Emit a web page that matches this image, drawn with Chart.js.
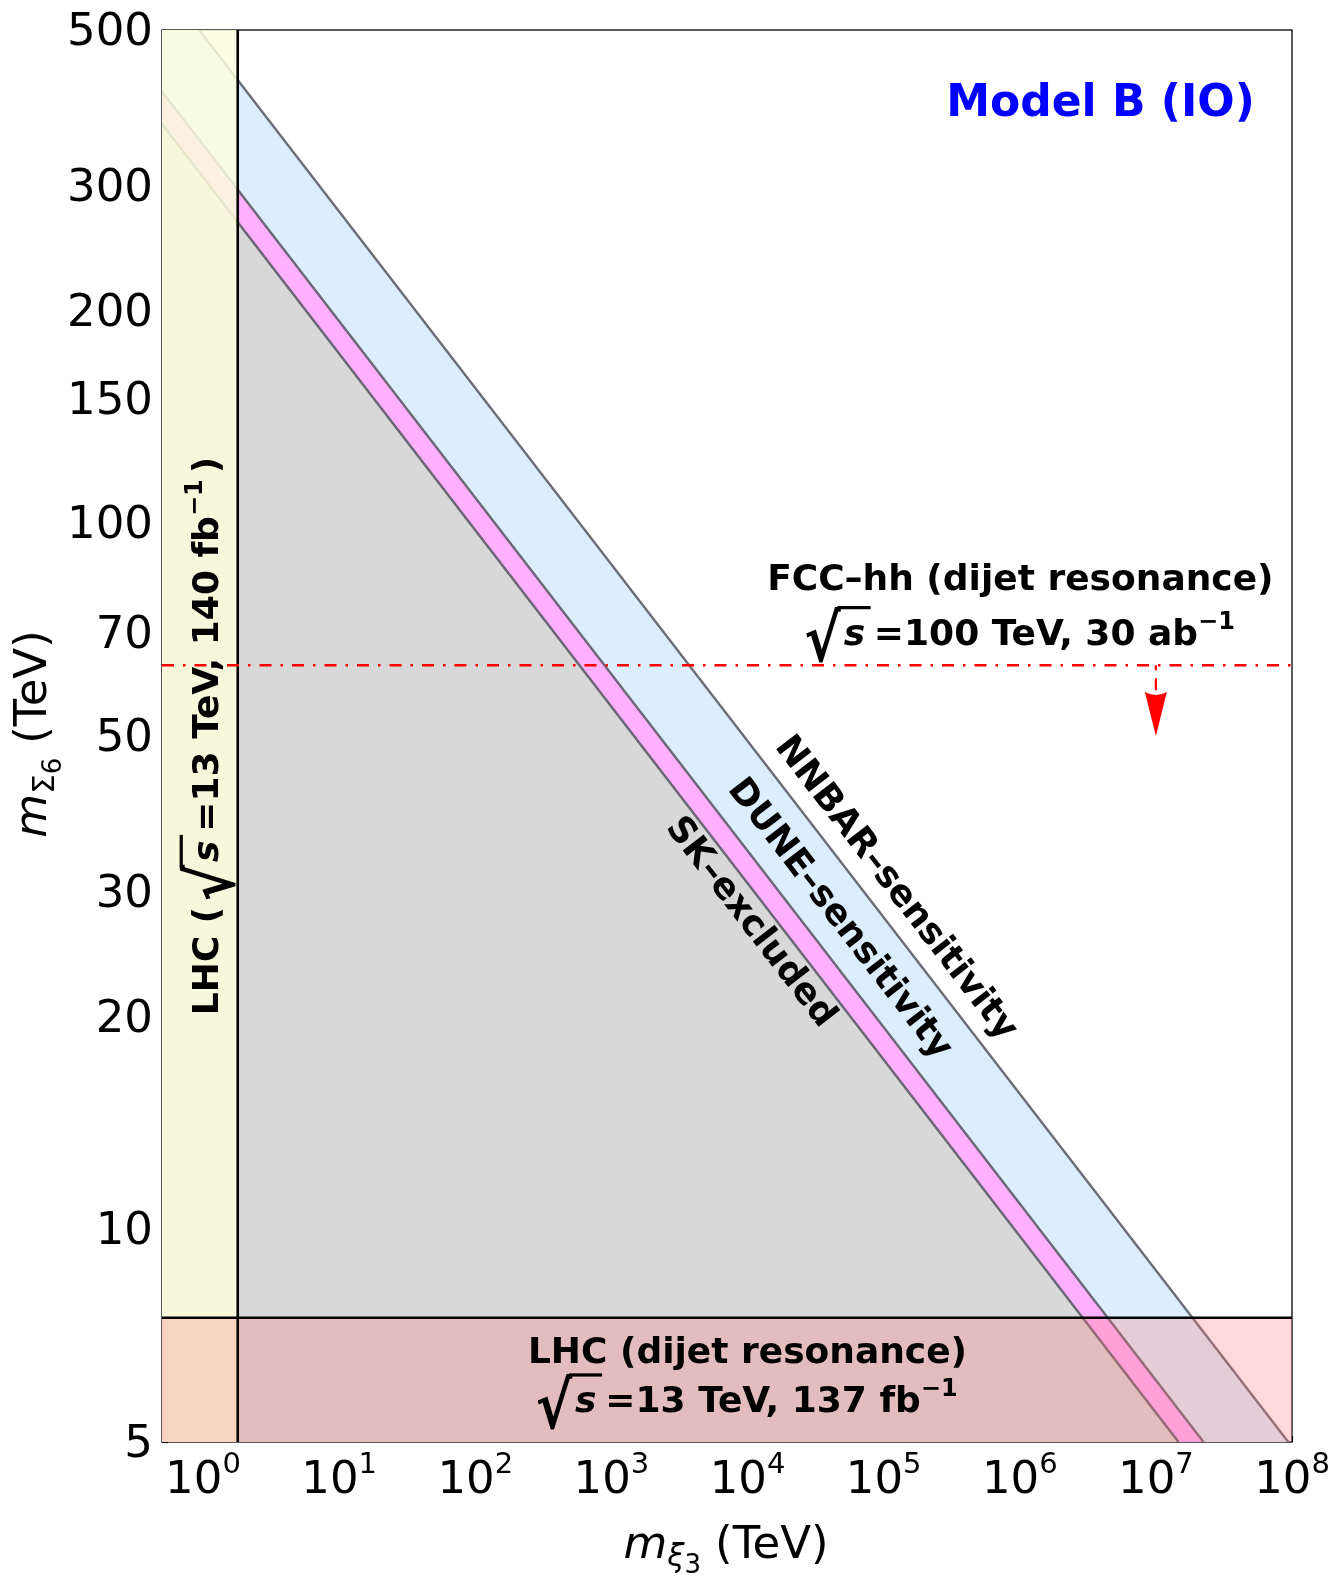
<!DOCTYPE html>
<html><head><meta charset="utf-8">
<script src="https://cdn.jsdelivr.net/npm/chart.js@4.4.1/dist/chart.umd.min.js"></script>
<style>html,body{margin:0;padding:0;background:#fff;}#wrap{width:1331px;height:1577px;}</style>
</head><body><div id="wrap"><canvas id="c" width="1331" height="1577"></canvas></div>
<script>
// ---------------- data (TeV) ----------------
const xTickExponents = [0, 1, 2, 3, 4, 5, 6, 7, 8];
const yTickValues = [5, 10, 20, 30, 50, 70, 100, 150, 200, 300, 500];
const xLimits = [0.5, 1e8];
const yLimits = [5, 500];
// boundary lines: m_xi3 vs m_Sigma6 (two endpoints each, straight in log-log)
const skX = [0.5, 1.467e7];
const skY = [368, 5];
const duneX = [0.5, 2.24e7];
const duneY = [409, 5];
const nnbarX = [0.5, 9.4e7];
const nnbarY = [585, 5];
// LHC bound on m_xi3 (vertical band) and LHC dijet bound on m_Sigma6
const lhcXiBandX = [0.5, 1.8];
const lhcXiLimit = 1.8;
const lhcDijetLimit = 7.5;
// FCC-hh dijet reach and its arrow
const fccLimit = 63;
const fccArrowX = 1e7;
const fccArrowY = [63, 50];

// ---------------- helpers ----------------
const FF = '"DejaVu Sans", "Liberation Sans", sans-serif';
Chart.defaults.font.family = FF;
function fnt(sz, bold, italic) { return (italic ? 'italic ' : '') + (bold ? 'bold ' : '') + sz + 'px ' + FF; }
const pts = (xs, ys) => xs.map((x, i) => ({ x: x, y: ys[i] }));

function partWidth(ctx, p) {
  if (p.sqrt) return 1.89 * p.s;
  if (p.gap) return p.gap;
  ctx.font = fnt(p.s, p.b, p.i);
  return ctx.measureText(p.t).width;
}
function drawSqrt(ctx, x, b, fs) {
  const w = 0.97 * fs, top = b - 1.08 * fs, bot = b + 0.47 * fs;
  ctx.save();
  ctx.font = fnt(100, true, false);
  ctx.textAlign = 'left'; ctx.textBaseline = 'alphabetic';
  const m = ctx.measureText('√');
  const gw = m.actualBoundingBoxLeft + m.actualBoundingBoxRight;
  const gh = m.actualBoundingBoxAscent + m.actualBoundingBoxDescent;
  ctx.translate(x, top);
  ctx.scale(w / gw, (bot - top) / gh);
  ctx.fillText('√', m.actualBoundingBoxLeft, m.actualBoundingBoxAscent);
  ctx.restore();
  const lw = 0.09 * fs;
  ctx.fillRect(x + w - lw, top, 1.8 * fs - w + lw, lw);
  ctx.font = fnt(fs, true, true);
  ctx.textAlign = 'left'; ctx.textBaseline = 'alphabetic';
  ctx.fillText('s', x + 1.05 * fs, b);
}
function drawRich(ctx, parts, x, y, align) {
  let total = 0;
  parts.forEach(p => { p._w = partWidth(ctx, p); total += p._w; });
  let cx = align === 'center' ? x - total / 2 : (align === 'right' ? x - total : x);
  ctx.textAlign = 'left'; ctx.textBaseline = 'alphabetic';
  parts.forEach(p => {
    if (p.sqrt) drawSqrt(ctx, cx, y, p.s);
    else if (!p.gap) { ctx.font = fnt(p.s, p.b, p.i); ctx.fillText(p.t, cx, y + (p.dy || 0)); }
    cx += p._w;
  });
}

// ---------------- plugin: frame, ticks, annotations ----------------
const annotPlugin = {
  id: 'annot',
  beforeDatasetsDraw(chart) {
    const ctx = chart.ctx, ca = chart.chartArea;
    const xs = chart.scales.x, ys = chart.scales.y;
    ctx.save();
    ctx.strokeStyle = '#000'; ctx.lineWidth = 1.3;
    ctx.strokeRect(ca.left, ca.top, ca.right - ca.left, ca.bottom - ca.top);
    ctx.lineWidth = 1.1;
    yTickValues.forEach(v => {
      const y = Math.round(ys.getPixelForValue(v)) + 0.5;
      ctx.beginPath(); ctx.moveTo(ca.left, y); ctx.lineTo(ca.left + 6, y); ctx.stroke();
    });
    xTickExponents.forEach(e => {
      const x = Math.round(xs.getPixelForValue(Math.pow(10, e))) + 0.5;
      ctx.beginPath(); ctx.moveTo(x, ca.bottom); ctx.lineTo(x, ca.bottom - 6); ctx.stroke();
    });
    ctx.restore();
  },
  afterDatasetsDraw(chart) {
    const ctx = chart.ctx;
    const xs = chart.scales.x, ys = chart.scales.y;
    const P = (x, y) => [xs.getPixelForValue(x), ys.getPixelForValue(y)];
    ctx.save();
    // arrow head of FCC reach
    const [ax, atip] = P(fccArrowX, fccArrowY[1]);
    ctx.fillStyle = '#ff0000';
    ctx.beginPath();
    ctx.moveTo(ax, atip);
    ctx.lineTo(ax - 11, atip - 44);
    ctx.quadraticCurveTo(ax, atip - 38, ax + 11, atip - 44);
    ctx.closePath(); ctx.fill();

    ctx.fillStyle = '#000';
    // FCC text
    let p = P(1.01e6, 80.5);
    drawRich(ctx, [{ t: 'FCC–hh (dijet resonance)', s: 36, b: true }], p[0], p[1], 'center');
    p = P(1.01e6, 67.3);
    drawRich(ctx, [{ sqrt: true, s: 36 }, { t: '=100 TeV, 30 ab', s: 36, b: true }, { t: '−1', s: 24, b: true, dy: -16 }], p[0], p[1], 'center');
    // LHC dijet text
    p = P(1e4, 6.47);
    drawRich(ctx, [{ t: 'LHC (dijet resonance)', s: 36, b: true }], p[0], p[1], 'center');
    p = P(1e4, 5.51);
    drawRich(ctx, [{ sqrt: true, s: 36 }, { t: '=13 TeV, 137 fb', s: 36, b: true }, { t: '−1', s: 24, b: true, dy: -16 }], p[0], p[1], 'center');
    // vertical LHC text
    p = P(1.30, 50);
    ctx.save(); ctx.translate(p[0], p[1]); ctx.rotate(-Math.PI / 2);
    drawRich(ctx, [{ t: 'LHC (', s: 36, b: true }, { gap: 7 }, { sqrt: true, s: 36 }, { t: '=13 TeV, 140 fb', s: 36, b: true }, { t: '−1', s: 24, b: true, dy: -16 }, { gap: 6 }, { t: ')', s: 36, b: true }], 0, 0, 'center');
    ctx.restore();
    // Model label
    ctx.fillStyle = '#0000ff';
    p = P(3.92e6, 378);
    drawRich(ctx, [{ t: 'Model B (IO)', s: 44, b: true }], p[0], p[1], 'center');
    ctx.fillStyle = '#000';
    // diagonal labels
    const a = P(skX[0], skY[0]), b2 = P(skX[1], skY[1]);
    const ang = Math.atan2(b2[1] - a[1], b2[0] - a[0]);
    const diag = [['NNBAR–sensitivity', 1.22e5, 30.4], ['DUNE–sensitivity', 4.72e4, 27.5], ['SK–excluded', 1.047e4, 27.2]];
    diag.forEach(d => {
      const q = P(d[1], d[2]);
      ctx.save(); ctx.translate(q[0], q[1]); ctx.rotate(ang);
      ctx.font = fnt(36, true, false); ctx.textAlign = 'center'; ctx.textBaseline = 'middle';
      ctx.fillText(d[0], 0, 0);
      ctx.restore();
    });
    ctx.restore();
  },
  afterDraw(chart) {
    const ctx = chart.ctx, xs = chart.scales.x;
    ctx.save(); ctx.fillStyle = '#000';
    // x tick labels 10^n
    xTickExponents.forEach(e => {
      const x = xs.getPixelForValue(Math.pow(10, e));
      drawRich(ctx, [{ t: '10', s: 45 }, { t: String(e), s: 29, dy: -20 }], x, 1493, 'center');
    });
    // x title
    drawRich(ctx, [{ t: 'm', s: 45, i: true }, { t: 'ξ', s: 31, i: true, dy: 8 }, { t: '3', s: 26, dy: 15 }, { gap: 14 }, { t: '(TeV)', s: 45 }], 726, 1558, 'center');
    // y title
    ctx.save(); ctx.translate(46, 734); ctx.rotate(-Math.PI / 2);
    drawRich(ctx, [{ t: 'm', s: 45, i: true }, { t: 'Σ', s: 31, dy: 8 }, { t: '6', s: 26, dy: 15 }, { gap: 14 }, { t: '(TeV)', s: 45 }], 0, 0, 'center');
    ctx.restore();
    ctx.restore();
  }
};

// ---------------- chart ----------------
const lineGray = 'rgba(85,85,95,0.85)';
const clear = 'rgba(0,0,0,0)';
const TARGET = { left: 162, top: 30, right: 1292, bottom: 1442 };
const chart = new Chart(document.getElementById('c'), {
  type: 'line',
  data: {
    datasets: [
      { label: 'NNBAR-sensitivity', data: pts(nnbarX, nnbarY), order: 9, fill: 'start', backgroundColor: 'rgb(220,238,253)', borderColor: lineGray, borderWidth: 2.4 },
      { label: 'DUNE-sensitivity', data: pts(duneX, duneY), order: 8, fill: 'start', backgroundColor: 'rgb(255,176,255)', borderColor: lineGray, borderWidth: 2.4 },
      { label: 'SK-excluded', data: pts(skX, skY), order: 7, fill: 'start', backgroundColor: 'rgb(216,216,216)', borderColor: lineGray, borderWidth: 2.4 },
      { label: 'LHC band', data: pts(lhcXiBandX, [yLimits[1], yLimits[1]]), order: 6, fill: 'start', backgroundColor: 'rgba(251,253,220,0.85)', borderColor: clear, borderWidth: 0 },
      { label: 'LHC dijet band', data: pts(xLimits, [lhcDijetLimit, lhcDijetLimit]), order: 5, fill: 'start', backgroundColor: 'rgba(255,117,117,0.28)', borderColor: clear, borderWidth: 0 },
      { label: 'LHC dijet limit', data: pts(xLimits, [lhcDijetLimit, lhcDijetLimit]), order: 4, fill: false, borderColor: '#000', borderWidth: 2.5 },
      { label: 'LHC limit', data: pts([lhcXiLimit, lhcXiLimit], yLimits), order: 3, fill: false, borderColor: '#000', borderWidth: 2.6 },
      { label: 'FCC-hh', data: pts(xLimits, [fccLimit, fccLimit]), order: 2, fill: false, borderColor: '#ff0000', borderWidth: 2.5, borderDash: [12, 9, 2.5, 9] },
      { label: 'FCC arrow', data: pts([fccArrowX, fccArrowX], fccArrowY), order: 1, fill: false, borderColor: '#ff0000', borderWidth: 2.2, borderDash: [5, 8, 12, 200] }
    ]
  },
  options: {
    responsive: false, animation: false, events: [],
    layout: { padding: { top: 30, right: 39, left: 0, bottom: 0 } },
    plugins: { legend: { display: false }, tooltip: { enabled: false } },
    elements: { point: { radius: 0 }, line: { tension: 0 } },
    scales: {
      x: { type: 'logarithmic', min: xLimits[0], max: xLimits[1],
        ticks: { display: false }, grid: { display: false, drawTicks: false }, border: { display: false },
        afterFit(s) { s.height = 135; } },
      y: { type: 'logarithmic', min: yLimits[0], max: yLimits[1],
        grid: { display: false, drawTicks: false }, border: { display: false },
        afterFit(s) { s.width = 162; },
        afterBuildTicks(s) { s.ticks = yTickValues.map(v => ({ value: v })); },
        ticks: { font: { size: 45, family: FF, lineHeight: 0.5 }, color: '#000', padding: 9, labelOffset: 3, autoSkip: false, callback: v => String(v) } }
    }
  },
  plugins: [annotPlugin]
});
// make the plot area land exactly where it is in the reference
(function fixArea() {
  const ca = chart.chartArea, pad = chart.options.layout.padding;
  const dt = ca.top - TARGET.top, dr = TARGET.right - ca.right;
  if (Math.abs(dt) > 0.5 || Math.abs(dr) > 0.5) {
    pad.top = pad.top - dt;
    pad.right = pad.right - dr;
    chart.update();
  }
})();
</script></body></html>
